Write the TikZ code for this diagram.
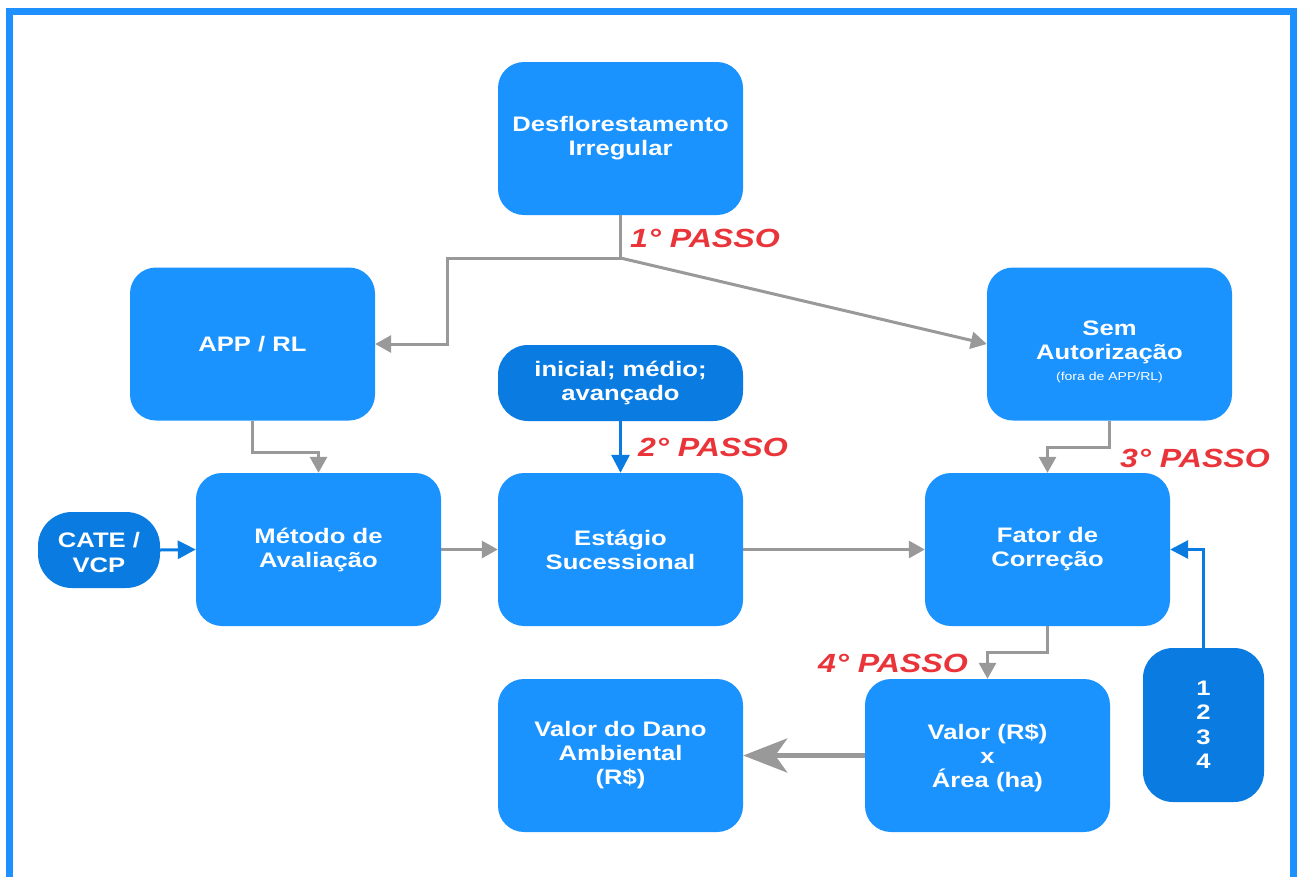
\documentclass[tikz,border=0pt]{standalone}
\usepackage{fontspec}
\setmainfont{Liberation Sans}[FakeStretch=1.22]
\usetikzlibrary{arrows.meta}
\definecolor{boxblue}{RGB}{27,147,255}
\definecolor{darkblue}{RGB}{10,124,225}
\definecolor{frameblue}{RGB}{30,144,255}
\definecolor{arrgray}{RGB}{153,153,153}
\definecolor{passred}{RGB}{233,52,58}
\begin{document}
\begin{tikzpicture}[x=1pt,y=-1pt,
  mainbox/.style={fill=boxblue, rounded corners=26pt, minimum width=245pt, minimum height=153pt,
    text=white, font=\fontsize{21}{24}\selectfont\bfseries, align=center, inner sep=0pt},
  darkbox/.style={fill=darkblue, rounded corners=30pt, text=white,
    font=\fontsize{21}{24.5}\selectfont\bfseries, align=center, inner sep=0pt},
  grayline/.style={draw=arrgray, line width=3pt},
  garrow/.style={grayline, -{Triangle[width=17pt,length=16pt]}},
  barrow/.style={draw=darkblue, line width=3pt, -{Triangle[width=18pt,length=18pt]}},
  passo/.style={text=passred, font=\fontsize{26.3}{30}\selectfont\bfseries\itshape, inner sep=0pt, anchor=west}]
\useasboundingbox (0,0) rectangle (1298,876);
\fill[white] (0,0) rectangle (1298,876);
\draw[frameblue, line width=7pt] (9.5,11.5) rectangle (1293.5,900);

% nodes
\node[mainbox] (desf) at (620.5,138.5) {Desflorestamento\\Irregular};
\node[mainbox] (app) at (252.5,344) {APP / RL};
\node[mainbox] (sem) at (1109.5,344) {\rule{0pt}{31pt}Sem\\Autoriza\c{c}\~ao\\[-3pt]{\fontsize{11.5}{13}\selectfont\mdseries (fora de APP/RL)}};
\node[darkbox, minimum width=245pt, minimum height=76pt] (ini) at (620.5,383) {inicial; m\'edio;\\avan\c{c}ado};
\node[mainbox] (met) at (318.5,549.5) {M\'etodo de\\Avalia\c{c}\~ao};
\node[darkbox, minimum width=122pt, minimum height=76pt, rounded corners=34pt] (cate) at (99,550) {\rule{0pt}{20pt}CATE /\\VCP};
\node[mainbox] (est) at (620.5,549.5) {Est\'agio\\Sucessional};
\node[mainbox] (fat) at (1047.5,549.5) {Fator de\\Corre\c{c}\~ao};
\node[darkbox, minimum width=121pt, minimum height=154pt] (nums) at (1203.5,725) {1\\2\\3\\4};
\node[mainbox] (dano) at (620.5,755.5) {Valor do Dano\\Ambiental\\(R\$)};
\node[mainbox] (val) at (987.5,755.5) {\rule{0pt}{20pt}Valor (R\$)\\x\\\'Area (ha)};

% connectors
\coordinate (split) at (620.5,258);
\draw[grayline] (desf.south) -- (split);
\draw[garrow] (split) -- (447,258) -- (447,344) -- (app.east);
\draw[garrow] (split) -- (sem.west);
\draw[garrow] (app.south) -- ++(0,32) -| (met.north);
\draw[garrow] (sem.south) -- ++(0,27) -| (fat.north);
\draw[barrow] (cate.east) -- (met.west);
\draw[garrow] (met.east) -- (est.west);
\draw[garrow] (est.east) -- (fat.west);
\draw[barrow] (ini.south) -- (est.north);
\draw[barrow] (nums.north) |- (fat.east);
\draw[garrow] (fat.south) -- ++(0,26) -| (val.north);
\draw[draw=arrgray, line width=5pt, -{Stealth[width=34pt,length=44pt,inset=12pt]}] (val.west) -- (dano.east);

% step labels
\node[passo] (p1) at (630,238) {1\textdegree{} PASSO};
\node[passo] (p2) at (638,447) {2\textdegree{} PASSO};
\node[passo] (p3) at (1120,458) {3\textdegree{} PASSO};
\node[passo] (p4) at (818,663) {4\textdegree{} PASSO};
\end{tikzpicture}
\end{document}
